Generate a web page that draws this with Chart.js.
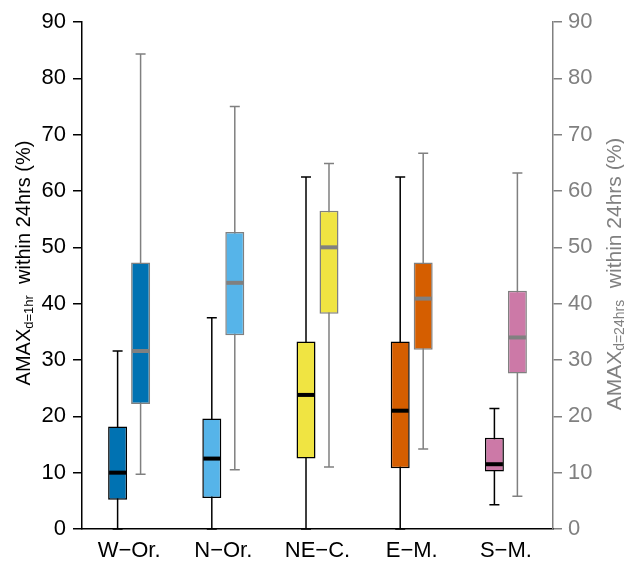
<!DOCTYPE html>
<html lang="en">
<head>
    <meta charset="UTF-8">
    <title>AMAX box plots</title>
    <script src="https://cdn.jsdelivr.net/npm/chart.js"></script>
    <style>
        * {
            margin: 0;
            padding: 0;
            box-sizing: border-box;
        }

        body {
            background-color: #fff;
        }

        .chart-container {
            width: 624px;
            height: 564px;
            position: relative;
        }
    </style>
</head>
<body>
    <div class="chart-container">
        <canvas id="boxChart"></canvas>
    </div>

    <script>
        const categories = ['W\u2212Or.', 'N\u2212Or.', 'NE\u2212C.', 'E\u2212M.', 'S\u2212M.'];
        const boxColors = ['#0072B2', '#56B4E9', '#F0E442', '#D55E00', '#CC79A7'];
        const yTicks = [0, 10, 20, 30, 40, 50, 60, 70, 80, 90];

        // AMAX d=1hr (left axis)
        const hr1Min = [0, 0, 0, 0, 4.3];
        const hr1Q1 = [5.2, 5.5, 12.5, 10.8, 10.2];
        const hr1Median = [10.0, 12.5, 23.8, 21.0, 11.5];
        const hr1Q3 = [18.2, 19.6, 33.3, 33.3, 16.2];
        const hr1Max = [31.6, 37.5, 62.5, 62.5, 21.4];

        // AMAX d=24hrs (right axis)
        const hr24Min = [9.7, 10.5, 11.0, 14.2, 5.8];
        const hr24Q1 = [22.2, 34.4, 38.2, 31.8, 27.6];
        const hr24Median = [31.6, 43.7, 50.0, 40.9, 34.0];
        const hr24Q3 = [47.3, 52.7, 56.5, 47.3, 42.3];
        const hr24Max = [84.3, 75.0, 64.9, 66.7, 63.2];

        const FONT = "'Liberation Sans', Arial, sans-serif";
        const GREY = '#808080';

        const stats = [
            { min: hr1Min, median: hr1Median, max: hr1Max, color: '#000', axis: 'y' },
            { min: hr24Min, median: hr24Median, max: hr24Max, color: GREY, axis: 'y2' }
        ];

        // whiskers behind the boxes, medians on top
        const boxPlotPlugin = {
            id: 'boxPlot',
            beforeDatasetsDraw(chart) {
                const ctx = chart.ctx;
                stats.forEach((s, di) => {
                    const scale = chart.scales[s.axis];
                    chart.getDatasetMeta(di).data.forEach((bar, i) => {
                        const yMin = scale.getPixelForValue(s.min[i]);
                        const yMax = scale.getPixelForValue(s.max[i]);
                        ctx.save();
                        ctx.strokeStyle = s.color;
                        ctx.lineWidth = 1.5;
                        ctx.beginPath();
                        ctx.moveTo(bar.x, yMin);
                        ctx.lineTo(bar.x, yMax);
                        ctx.moveTo(bar.x - 5, yMax);
                        ctx.lineTo(bar.x + 5, yMax);
                        ctx.moveTo(bar.x - 5, yMin);
                        ctx.lineTo(bar.x + 5, yMin);
                        ctx.stroke();
                        ctx.restore();
                    });
                });
            },
            afterDatasetsDraw(chart) {
                const ctx = chart.ctx;
                stats.forEach((s, di) => {
                    const scale = chart.scales[s.axis];
                    chart.getDatasetMeta(di).data.forEach((bar, i) => {
                        const yMed = scale.getPixelForValue(s.median[i]);
                        const half = bar.width / 2 - 1;
                        ctx.save();
                        ctx.strokeStyle = s.color;
                        ctx.lineWidth = 4;
                        ctx.beginPath();
                        ctx.moveTo(bar.x - half, yMed);
                        ctx.lineTo(bar.x + half, yMed);
                        ctx.stroke();
                        ctx.restore();
                    });
                });
            }
        };

        // rotated axis titles with subscripts
        function drawTitle(ctx, x, y, sub, color, size) {
            const big = size + 'px ' + FONT;
            const small = Math.round(size * 0.65) + 'px ' + FONT;
            ctx.font = big;
            const w1 = ctx.measureText('AMAX').width;
            const w3 = ctx.measureText('  within 24hrs (%)').width;
            ctx.font = small;
            const w2 = ctx.measureText(sub).width;
            const total = w1 + w2 + w3;
            ctx.save();
            ctx.translate(x, y);
            ctx.rotate(-Math.PI / 2);
            ctx.fillStyle = color;
            ctx.textBaseline = 'middle';
            ctx.textAlign = 'left';
            let pos = -total / 2;
            ctx.font = big;
            ctx.fillText('AMAX', pos, 0);
            pos += w1;
            ctx.font = small;
            ctx.fillText(sub, pos, 5);
            pos += w2;
            ctx.font = big;
            ctx.fillText('  within 24hrs (%)', pos, 0);
            ctx.restore();
        }

        const titlePlugin = {
            id: 'axisTitles',
            afterDraw(chart) {
                drawTitle(chart.ctx, 24, 263, 'd=1hr', '#000', 20);
                drawTitle(chart.ctx, 615, 274, 'd=24hrs', GREY, 21);
            }
        };

        const ctx = document.getElementById('boxChart').getContext('2d');

        new Chart(ctx, {
            type: 'bar',
            data: {
                labels: categories,
                datasets: [{
                    data: categories.map((c, i) => [hr1Q1[i], hr1Q3[i]]),
                    yAxisID: 'y',
                    backgroundColor: boxColors,
                    borderColor: '#000',
                    borderWidth: 1.5,
                    borderSkipped: false
                }, {
                    data: categories.map((c, i) => [hr24Q1[i], hr24Q3[i]]),
                    yAxisID: 'y2',
                    backgroundColor: boxColors,
                    borderColor: GREY,
                    borderWidth: 1.5,
                    borderSkipped: false
                }]
            },
            options: {
                responsive: true,
                maintainAspectRatio: false,
                animation: false,
                categoryPercentage: 0.488,
                barPercentage: 0.826,
                layout: {
                    padding: { top: 22 }
                },
                scales: {
                    x: {
                        grid: { display: false, drawTicks: false },
                        border: { display: true, color: '#000', width: 1.5 },
                        ticks: {
                            color: '#000',
                            padding: 9,
                            font: { family: FONT, size: 22 }
                        },
                        afterFit(scale) { scale.height = 35; }
                    },
                    y: {
                        position: 'left',
                        min: 0,
                        max: 90,
                        afterBuildTicks(scale) { scale.ticks = yTicks.map(v => ({ value: v })); },
                        grid: { drawOnChartArea: false, tickLength: 9, color: '#000', lineWidth: 1.5 },
                        border: { display: true, color: '#000', width: 1.5 },
                        ticks: {
                            color: '#000',
                            padding: 7,
                            font: { family: FONT, size: 22 }
                        },
                        afterFit(scale) { scale.width = 82; }
                    },
                    y2: {
                        position: 'right',
                        min: 0,
                        max: 90,
                        afterBuildTicks(scale) { scale.ticks = yTicks.map(v => ({ value: v })); },
                        grid: { drawOnChartArea: false, tickLength: 9, color: GREY, lineWidth: 1.5 },
                        border: { display: true, color: GREY, width: 1.5 },
                        ticks: {
                            color: GREY,
                            padding: 6,
                            font: { family: FONT, size: 22 }
                        },
                        afterFit(scale) { scale.width = 71; }
                    }
                },
                plugins: {
                    legend: { display: false },
                    tooltip: { enabled: false }
                }
            },
            plugins: [boxPlotPlugin, titlePlugin]
        });
    </script>
</body>
</html>
